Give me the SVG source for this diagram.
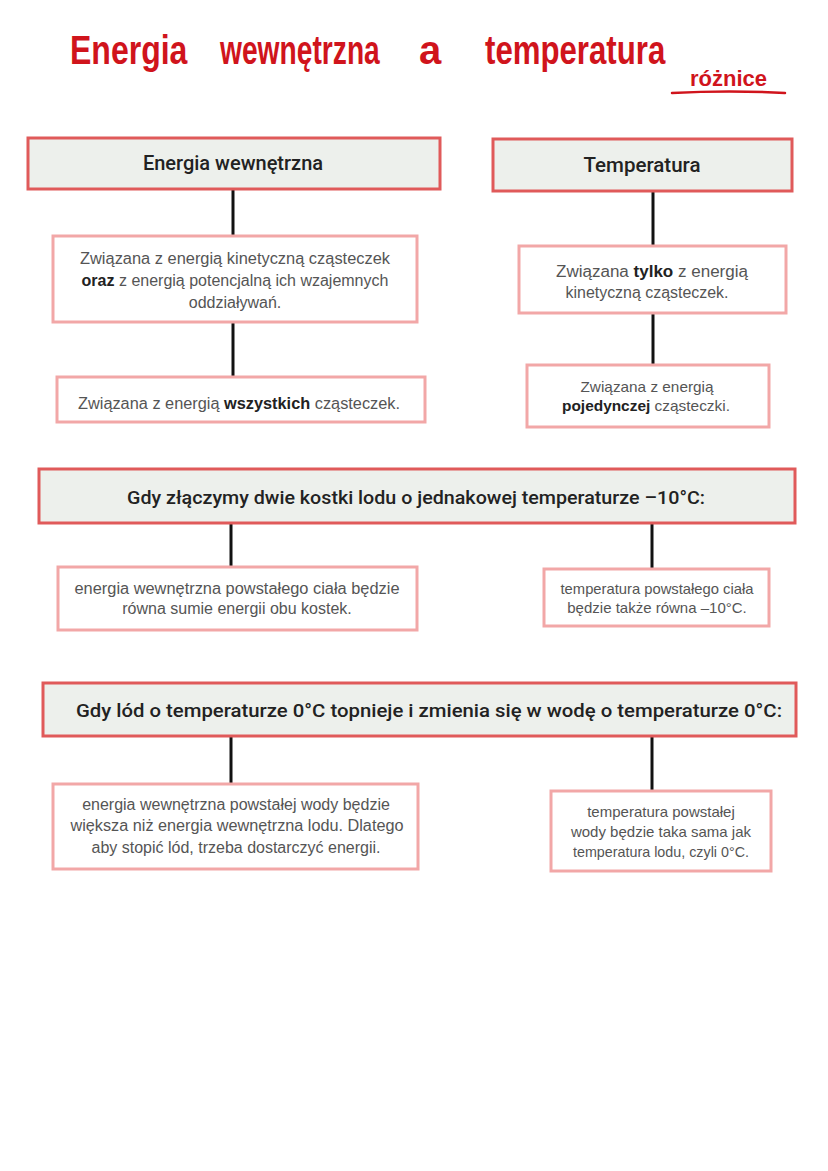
<svg xmlns="http://www.w3.org/2000/svg" width="828" height="1171" viewBox="0 0 828 1171">
<style>
.hw{font-family:"Liberation Sans","DejaVu Sans",sans-serif;fill:#d0141c;font-weight:bold}
.hd{fill:#edf0ec;stroke:#e05a5a;stroke-width:3}
.bx{fill:#ffffff;stroke:#f2a7a7;stroke-width:3}
.ht{font-family:Roboto,"Liberation Sans",sans-serif;font-weight:500;fill:#222;text-anchor:middle}
.tx{font-family:"Liberation Sans",Arial,sans-serif;font-size:16px;fill:#555;text-anchor:middle}
.sm{font-size:15px}
.b{font-weight:bold;fill:#222}
.cn{stroke:#111;stroke-width:3;fill:none}
</style>
<rect width="828" height="1171" fill="#ffffff"/>
<g id="title">
<text class="hw" font-size="40" transform="translate(70,64) scale(0.8,1)">Energia</text>
<text class="hw" font-size="40" transform="translate(220,64) scale(0.705,1)">wewnętrzna</text>
<text class="hw" font-size="40" transform="translate(419,64)">a</text>
<text class="hw" font-size="40" transform="translate(485,64) scale(0.78,1)">temperatura</text>
<text class="hw" x="690" y="86" font-size="22">różnice</text>
<path d="M672 93 Q730 90 785 93" stroke="#d0141c" stroke-width="2.5" fill="none" stroke-linecap="round"/>
</g>
<g id="connectors">
<line class="cn" x1="233" y1="189" x2="233" y2="236"/>
<line class="cn" x1="233" y1="322" x2="233" y2="377"/>
<line class="cn" x1="653" y1="191" x2="653" y2="246"/>
<line class="cn" x1="653" y1="313" x2="653" y2="365"/>
<line class="cn" x1="231" y1="523" x2="231" y2="567"/>
<line class="cn" x1="652" y1="523" x2="652" y2="569"/>
<line class="cn" x1="231" y1="736" x2="231" y2="784"/>
<line class="cn" x1="652" y1="736" x2="652" y2="791"/>
</g>
<g id="energia-header">
<rect class="hd" x="28" y="138" width="412" height="51"/>
<text class="ht" x="233" y="170" font-size="20">Energia wewnętrzna</text>
</g>
<g id="energia-1">
<rect class="bx" x="53" y="236" width="364" height="86"/>
<text class="tx" x="235" y="264" textLength="310" lengthAdjust="spacingAndGlyphs">Związana z energią kinetyczną cząsteczek</text>
<text class="tx" x="235" y="286"><tspan class="b">oraz</tspan> z energią potencjalną ich wzajemnych</text>
<text class="tx" x="235" y="308">oddziaływań.</text>
</g>
<g id="energia-2">
<rect class="bx" x="57" y="377" width="368" height="45"/>
<text class="tx" x="239" y="409" textLength="322" lengthAdjust="spacingAndGlyphs">Związana z energią <tspan class="b">wszystkich</tspan> cząsteczek.</text>
</g>
<g id="temperatura-header">
<rect class="hd" x="493" y="139" width="299" height="52"/>
<text class="ht" x="642" y="172" font-size="20.5">Temperatura</text>
</g>
<g id="temperatura-1">
<rect class="bx" x="519" y="246" width="267" height="67"/>
<text class="tx" x="652" y="277" textLength="192" lengthAdjust="spacingAndGlyphs">Związana <tspan class="b">tylko</tspan> z energią</text>
<text class="tx" x="647" y="298" textLength="163" lengthAdjust="spacingAndGlyphs">kinetyczną cząsteczek.</text>
</g>
<g id="temperatura-2">
<rect class="bx" x="527" y="365" width="242" height="62"/>
<text class="tx sm" x="647" y="392" textLength="133" lengthAdjust="spacingAndGlyphs">Związana z energią</text>
<text class="tx sm" x="646" y="411" textLength="168" lengthAdjust="spacingAndGlyphs"><tspan class="b">pojedynczej</tspan> cząsteczki.</text>
</g>
<g id="lod-header">
<rect class="hd" x="39" y="469" width="756" height="54"/>
<text class="ht" x="416" y="504" font-size="19" textLength="578" lengthAdjust="spacingAndGlyphs">Gdy złączymy dwie kostki lodu o jednakowej temperaturze –10°C:</text>
</g>
<g id="lod-energia">
<rect class="bx" x="58" y="567" width="359" height="63"/>
<text class="tx" x="237" y="594" textLength="325" lengthAdjust="spacingAndGlyphs">energia wewnętrzna powstałego ciała będzie</text>
<text class="tx" x="237" y="614">równa sumie energii obu kostek.</text>
</g>
<g id="lod-temperatura">
<rect class="bx" x="544" y="569" width="225" height="57"/>
<text class="tx sm" x="657" y="594" textLength="193" lengthAdjust="spacingAndGlyphs">temperatura powstałego ciała</text>
<text class="tx sm" x="657" y="613">będzie także równa –10°C.</text>
</g>
<g id="topnienie-header">
<rect class="hd" x="43" y="683" width="753" height="53"/>
<text class="ht" x="429" y="717" font-size="19" textLength="706" lengthAdjust="spacingAndGlyphs">Gdy lód o temperaturze 0°C topnieje i zmienia się w wodę o temperaturze 0°C:</text>
</g>
<g id="topnienie-energia">
<rect class="bx" x="53" y="784" width="365" height="85"/>
<text class="tx" x="236" y="810">energia wewnętrzna powstałej wody będzie</text>
<text class="tx" x="237" y="831" textLength="333" lengthAdjust="spacingAndGlyphs">większa niż energia wewnętrzna lodu. Dlatego</text>
<text class="tx" x="236" y="853">aby stopić lód, trzeba dostarczyć energii.</text>
</g>
<g id="topnienie-temperatura">
<rect class="bx" x="551" y="791" width="220" height="80"/>
<text class="tx sm" x="661" y="817">temperatura powstałej</text>
<text class="tx sm" x="661" y="837">wody będzie taka sama jak</text>
<text class="tx sm" x="661" y="857" textLength="176" lengthAdjust="spacingAndGlyphs">temperatura lodu, czyli 0°C.</text>
</g>
</svg>
